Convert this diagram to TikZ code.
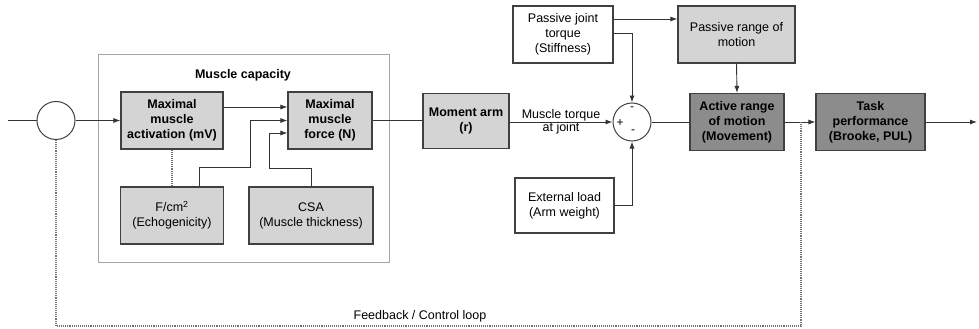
\documentclass[tikz,border=0pt]{standalone}
\usepackage{fontspec}
\setmainfont{Liberation Sans}
\colorlet{BoxLight}{black!17}
\colorlet{BoxDark}{black!45}
\colorlet{BoxBorder}{black!75}
\colorlet{GroupBorder}{black!35}
\colorlet{LineColor}{black!80}
\usetikzlibrary{arrows.meta}
\tikzset{
  block/.style={draw=BoxBorder, line width=1.1pt, align=center, inner sep=1pt,
    font=\fontsize{12.5}{15}\selectfont},
  lightblock/.style={block, fill=BoxLight},
  darkblock/.style={block, fill=BoxDark},
  whiteblock/.style={block, fill=white},
  junction/.style={circle, draw=BoxBorder, line width=1pt, minimum size=38pt, inner sep=0pt},
  sign/.style={font=\fontsize{12}{12}\selectfont, inner sep=0pt},
  signal/.style={draw=LineColor, line width=0.9pt},
  flow/.style={signal, -{Latex[length=7pt,width=5pt]}},
  loopline/.style={draw=black!55, line width=1.1pt, densely dotted},
  caption/.style={align=center, font=\fontsize{12.5}{13}\selectfont},
}

\begin{document}
\begin{tikzpicture}[x=1pt, y=-1pt]
\useasboundingbox (0,0) rectangle (979,329);

% Capacidad muscular
\draw[GroupBorder, line width=1pt] (98,55) rectangle (389,262);
\node[caption] (cap) at (243,75) {\textbf{Muscle capacity}};

\node[junction] (sumA) at (56,120.5) {};
\node[lightblock, minimum width=102pt, minimum height=57pt] (act) at (172,120.5)
  {\textbf{Maximal}\\\textbf{muscle}\\\textbf{activation (mV)}};
\node[lightblock, minimum width=84pt, minimum height=57pt] (force) at (330,120.5)
  {\textbf{Maximal}\\\textbf{muscle}\\\textbf{force (N)}};
\node[lightblock, minimum width=103pt, minimum height=57pt] (fcm) at (172,215.5)
  {F/cm\textsuperscript{2}\\(Echogenicity)};
\node[lightblock, minimum width=124pt, minimum height=57pt] (csa) at (311,215.5)
  {CSA\\(Muscle thickness)};

% Articulacion
\node[lightblock, minimum width=86pt, minimum height=55pt] (moment) at (466,121)
  {\textbf{Moment arm}\\\textbf{(r)}};
\node[whiteblock, minimum width=100pt, minimum height=57pt] (passive) at (563,34.5)
  {Passive joint\\torque\\(Stiffness)};
\node[whiteblock, minimum width=99pt, minimum height=55pt] (ext) at (564.5,205.5)
  {External load\\(Arm weight)};
\node[junction] (sumB) at (632,122) {};
\node[sign] (sgA) at ([yshift=13pt]sumB) {-};
\node[sign] (sgB) at ([xshift=-12pt, yshift=-1pt]sumB) {+};
\node[sign] (sgC) at ([xshift=1pt, yshift=-10pt]sumB) {-};

% Movimiento y tarea
\node[lightblock, minimum width=117pt, minimum height=57pt] (prom) at (736.5,34.5)
  {Passive range of\\motion};
\node[darkblock, minimum width=94pt, minimum height=57pt] (active) at (737,122)
  {\textbf{Active range}\\\textbf{of motion}\\\textbf{(Movement)}};
\node[darkblock, minimum width=109pt, minimum height=57pt] (task) at (870.5,122)
  {\textbf{Task}\\\textbf{performance}\\\textbf{(Brooke, PUL)}};

\coordinate (in) at (8,120.5);
\coordinate (out) at (977,122);
\coordinate (fin1) at ([yshift=13.5pt]force.west);
\coordinate (fin2) at (force.west);
\coordinate (fin3) at ([yshift=-12.5pt]force.west);
\coordinate (bendF) at (250,167);
\coordinate (bendC) at (269,168);

% Conexiones
\draw[signal] (in) -- (sumA);
\draw[flow] (sumA.east) -- (sumA.east -| act.west);
\draw[flow] (fin1 -| act.east) -- (fin1);
\draw[flow] ([xshift=27pt]fcm.north) |- (bendF) |- (fin2);
\draw[flow] (csa.north) |- (bendC) |- (fin3);
\draw[loopline] (act.south) -- (fcm.north);
\draw[signal] (force.east) -- (force.east -| moment.west);
\draw[flow] (moment.east |- sumB) -- (sumB.west)
  node[caption, midway] (torque) {Muscle torque\\at joint};
\draw[flow] ([yshift=15.5pt]passive.east) -- ([yshift=15.5pt]passive.east -| prom.west);
\draw[flow] ([yshift=1.5pt]passive.east) -| (sumB.north);
\draw[flow] (ext.east) -| (sumB.south);
\draw[signal] (sumB.east) -- (sumB.east -| active.west);
\draw[flow] (prom.south) -- (active.north);
\draw[flow] (active) -- (task);
\draw[flow] (task.east) -- (out);

% Lazo de realimentacion
\coordinate (fb) at (801,122);
\coordinate (fbcorner) at (801,326);
\draw[loopline] (fb) -- (fbcorner) -| (sumA.south);
\node[caption] (fblabel) at (420,316) {Feedback / Control loop};

\end{tikzpicture}
\end{document}
